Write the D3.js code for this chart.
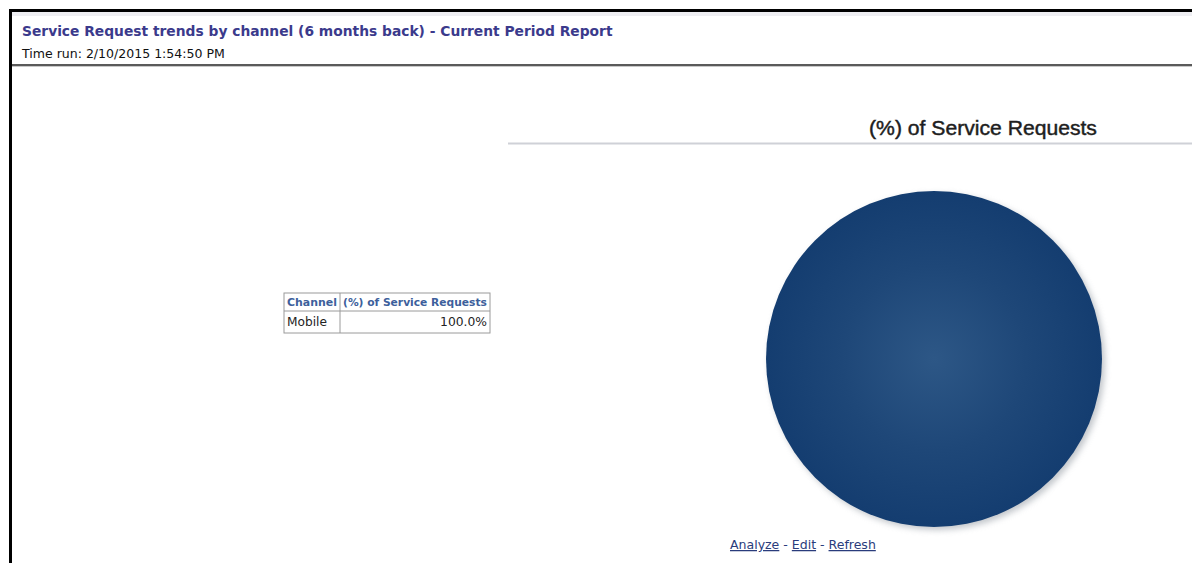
<!DOCTYPE html>
<html>
<head>
<meta charset="utf-8">
<script src="https://cdn.jsdelivr.net/npm/d3@7"></script>
<style>
  body { margin: 0; background: #fff; }
  svg { display: block; }
</style>
</head>
<body>
<svg id="chart" width="1192" height="563"></svg>
<script>
// data
const channels = ["Mobile"];
const requestShare = [100.0]; // (%) of Service Requests
const reportTitle = "Service Request trends by channel (6 months back) - Current Period Report";
const timeRun = "Time run: 2/10/2015 1:54:50 PM";
const chartTitle = "(%) of Service Requests";
const tableHeaders = ["Channel", "(%) of Service Requests"];
const links = ["Analyze", "Edit", "Refresh"];

const width = 1192, height = 563;
const svg = d3.select("#chart");

// fit a text element to a target width by adjusting font-size
function fitWidth(sel, target) {
    const w = sel.node().getComputedTextLength();
    const fs = parseFloat(sel.attr("font-size"));
    sel.attr("font-size", (fs * target / w).toFixed(2));
}

// frame
svg.append("rect").attr("x", 9).attr("y", 9).attr("width", width).attr("height", 3).attr("fill", "#000");
svg.append("rect").attr("x", 9).attr("y", 9).attr("width", 3).attr("height", height).attr("fill", "#000");
svg.append("rect").attr("x", 12).attr("y", 12).attr("width", width).attr("height", 4).attr("fill", "#eeeef2");

// report header
const t1 = svg.append("text")
    .attr("x", 22).attr("y", 36)
    .attr("font-family", "DejaVu Sans, Verdana, sans-serif")
    .attr("font-weight", "bold")
    .attr("font-size", 13)
    .attr("fill", "#3b3a8c")
    .text(reportTitle);
fitWidth(t1, 591);

const t2 = svg.append("text")
    .attr("x", 22).attr("y", 58)
    .attr("font-family", "DejaVu Sans, Verdana, sans-serif")
    .attr("font-size", 11)
    .attr("fill", "#111")
    .text(timeRun);
fitWidth(t2, 203);

svg.append("rect").attr("x", 12).attr("y", 64).attr("width", width).attr("height", 2).attr("fill", "#5a5a5a");
svg.append("rect").attr("x", 12).attr("y", 66).attr("width", width).attr("height", 1).attr("fill", "#c8c8c8");

// table
const tbl = svg.append("g").attr("transform", "translate(284,293)");
const colX = d3.scaleOrdinal().domain(tableHeaders).range([0, 56]);
const colW = [56, 150];
const rowH = [18, 22];
const tw = d3.sum(colW), th = d3.sum(rowH);
tbl.append("rect").attr("width", tw).attr("height", th).attr("fill", "#fff").attr("stroke", "#9a9a9a");
tbl.append("line").attr("x1", 0).attr("x2", tw).attr("y1", rowH[0]).attr("y2", rowH[0]).attr("stroke", "#9a9a9a");
tbl.append("line").attr("x1", colW[0]).attr("x2", colW[0]).attr("y1", 0).attr("y2", th).attr("stroke", "#9a9a9a");
tbl.selectAll("text.h").data(tableHeaders).join("text")
    .attr("class", "h")
    .attr("x", d => colX(d) + 3)
    .attr("y", 13)
    .attr("font-family", "DejaVu Sans, Verdana, sans-serif")
    .attr("font-weight", "bold")
    .attr("font-size", 9.5)
    .attr("fill", "#3d5f9c")
    .text(d => d);
tbl.selectAll("text.h").each(function(d, i) { fitWidth(d3.select(this), i === 0 ? 50 : 144); });

channels.forEach((c, i) => {
    const y = rowH[0] + 15 + i * rowH[1];
    const a = tbl.append("text").attr("x", 3).attr("y", y)
        .attr("font-family", "DejaVu Sans, Verdana, sans-serif").attr("font-size", 12).attr("fill", "#222")
        .text(c);
    fitWidth(a, 40);
    const b = tbl.append("text").attr("x", tw - 3).attr("y", y).attr("text-anchor", "end")
        .attr("font-family", "DejaVu Sans, Verdana, sans-serif").attr("font-size", 12).attr("fill", "#222")
        .text(d3.format(".1f")(requestShare[i]) + "%");
    fitWidth(b, 47);
});

// chart title (condensed)
const ct = svg.append("text")
    .attr("x", 0).attr("y", 0)
    .attr("text-anchor", "middle")
    .attr("font-family", "Liberation Sans, Arial, sans-serif")
    .attr("font-size", 21)
    .attr("fill", "#1e1e1e")
    .attr("stroke", "#1e1e1e")
    .attr("stroke-width", 0.45)
    .text(chartTitle);
const ctw = ct.node().getComputedTextLength();
ct.attr("transform", `translate(983,135) scale(${(228 / ctw).toFixed(3)},1)`);
svg.append("line").attr("x1", 508).attr("x2", width).attr("y1", 143.5).attr("y2", 143.5)
    .attr("stroke", "#cfd1d7").attr("stroke-width", 2);

// pie
const defs = svg.append("defs");
const grad = defs.append("radialGradient").attr("id", "pieGrad")
    .attr("cx", "50%").attr("cy", "50%").attr("r", "50%");
grad.append("stop").attr("offset", "0%").attr("stop-color", "#2d5786");
grad.append("stop").attr("offset", "55%").attr("stop-color", "#1e4778");
grad.append("stop").attr("offset", "100%").attr("stop-color", "#143d70");
const blur = defs.append("filter").attr("id", "shadow").attr("x", "-10%").attr("y", "-10%").attr("width", "120%").attr("height", "120%");
blur.append("feGaussianBlur").attr("stdDeviation", 3);

const cx = 934, cy = 359, r = 168;
const pie = d3.pie().sort(null).value(d => d)(requestShare);
const arc = d3.arc().innerRadius(0).outerRadius(r);
const pg = svg.append("g").attr("transform", `translate(${cx},${cy})`);
pg.selectAll("path.sh").data(pie).join("path")
    .attr("class", "sh")
    .attr("d", arc)
    .attr("transform", "translate(3,3)")
    .attr("fill", "#9aa0a8")
    .attr("opacity", 0.6)
    .attr("filter", "url(#shadow)");
pg.selectAll("path.slice").data(pie).join("path")
    .attr("class", "slice")
    .attr("d", arc)
    .attr("fill", "url(#pieGrad)")
    .append("title").text((d, i) => `${channels[i]}: ${requestShare[i]}%`);

// links
const lg = svg.append("text")
    .attr("x", 730).attr("y", 549)
    .attr("font-family", "DejaVu Sans, Verdana, sans-serif")
    .attr("font-size", 11)
    .attr("fill", "#2a3c7c");
links.forEach((l, i) => {
    if (i > 0) lg.append("tspan").text(" - ");
    lg.append("tspan").attr("text-decoration", "underline").text(l);
});
fitWidth(lg, 146);
</script>
</body>
</html>
